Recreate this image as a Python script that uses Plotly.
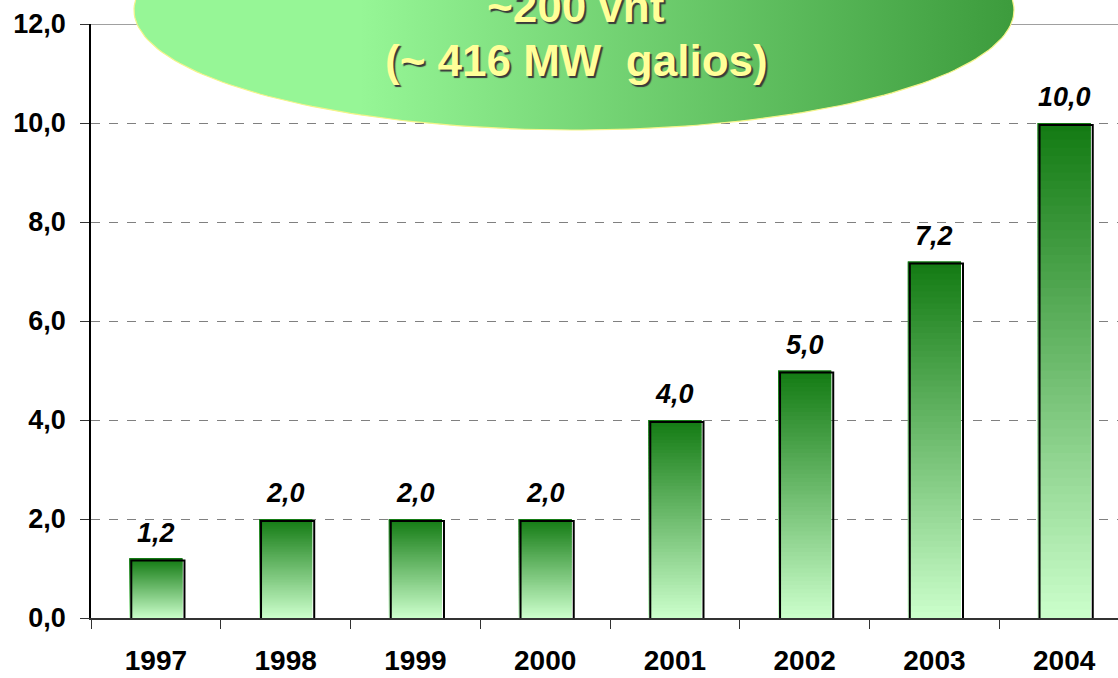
import numpy as np
import plotly.graph_objects as go

# ---- data ----
years = ["1997", "1998", "1999", "2000", "2001", "2002", "2003", "2004"]
values = [1.2, 2.0, 2.0, 2.0, 4.0, 5.0, 7.2, 10.0]
y_ticks = [0, 2, 4, 6, 8, 10, 12]
bubble_line1 = "~200 vnt"
bubble_line2 = "(~ 416 MW  galios)"

W, H = 1118, 678
BAR_W = 0.41
N = 60
top_rgb = np.array([18, 122, 18])
bot_rgb = np.array([204, 255, 204])

fig = go.Figure()

# gradient bars built from overlapping slices
for k in range(N):
    f = (k + 0.5) / N
    c = bot_rgb + (top_rgb - bot_rgb) * f
    col = "rgb(%d,%d,%d)" % tuple(int(round(v)) for v in c)
    bases = [v * k / N for v in values]
    heights = [min(v / N * 2.0, v - bb) for v, bb in zip(values, bases)]
    fig.add_trace(go.Bar(
        x=years, y=heights, base=bases,
        width=BAR_W, marker=dict(color=col, line=dict(width=0)),
        hoverinfo="skip", showlegend=False, xaxis="x", yaxis="y"))

# shadow outline (offset axes)
px_per_cat = (W - 91) / 7.915
px_per_unit = (618 - 24) / 12
dx = 2 / px_per_cat
dy = 2 / px_per_unit
fig.add_trace(go.Bar(
    x=years, y=values, width=BAR_W,
    marker=dict(color="rgba(0,0,0,0)", line=dict(color="black", width=2)),
    hoverinfo="skip", showlegend=False, xaxis="x2", yaxis="y2"))

# bubble ellipse (decoration) in pixel axes
cx, cy, a, b = 574, 10, 440, 120
t = np.linspace(0, 2 * np.pi, 240)
fig.add_trace(go.Scatter(
    x=cx + a * np.cos(t), y=cy + b * np.sin(t), mode="lines", fill="toself",
    line=dict(color="#f4f48a", width=1.2),
    fillgradient=dict(type="horizontal", start=360, stop=1010,
                      colorscale=[[0, "#96f696"], [1, "#3d9c3d"]]),
    hoverinfo="skip", showlegend=False, xaxis="x3", yaxis="y3"))

# value labels
for i, v in enumerate(values):
    fig.add_annotation(x=i, y=v, xref="x", yref="y", yshift=26,
                       text=("%.1f" % v).replace(".", ","), showarrow=False,
                       font=dict(family="Liberation Sans, Arial", size=27,
                                 color="black", weight="bold", style="italic"))

txtfont = dict(family="Liberation Sans, Arial", size=44,
               color="#ffff99", weight="bold", shadow="2px 2px 1px #3a3a3a")
fig.add_annotation(x=576, y=6, xref="x3", yref="y3", text=bubble_line1,
                   showarrow=False, font=txtfont)
fig.add_annotation(x=576, y=60, xref="x3", yref="y3", text=bubble_line2,
                   showarrow=False, font=txtfont)

fig.add_shape(type="line", xref="paper", yref="y", x0=91 / W, x1=1, y0=12, y1=12,
              line=dict(color="#808080", width=1.5), layer="below")

ydom = [(H - 618) / H, (H - 24) / H]
xdom = [91 / W, 1]
xr = [-0.5, 7.415]

fig.update_layout(
    width=W, height=H, margin=dict(l=0, r=0, t=0, b=0),
    paper_bgcolor="white", plot_bgcolor="rgba(0,0,0,0)",
    barmode="overlay", separators=",.",
    xaxis=dict(domain=xdom, type="category", range=xr, anchor="y",
               showline=True, linecolor="#333", linewidth=1.5,
               ticks="outside", tickson="boundaries", ticklen=9, tickcolor="#333",
               ticklabelstandoff=17, showgrid=False, automargin=False,
               tickfont=dict(family="Liberation Sans, Arial", size=28, color="black", weight="bold")),
    yaxis=dict(domain=ydom, range=[0, 12], anchor="x", tickvals=y_ticks, tickformat=".1f",
               showline=True, linecolor="black", linewidth=1.5,
               ticks="outside", ticklen=9, tickcolor="#333", ticklabelstandoff=9,
               showgrid=True, gridcolor="#808080", griddash="dash", gridwidth=1.2,
               zeroline=False, automargin=False,
               tickfont=dict(family="Liberation Sans, Arial", size=27, color="black", weight="bold")),
    xaxis2=dict(type="category", overlaying="x", range=[xr[0] - dx, xr[1] - dx],
                visible=False, anchor="y2"),
    yaxis2=dict(overlaying="y", range=[dy, 12 + dy], visible=False, anchor="x2"),
    xaxis3=dict(domain=[0, 1], range=[0, W], visible=False, anchor="y3", fixedrange=True),
    yaxis3=dict(domain=[0, 1], range=[H, 0], visible=False, anchor="x3", fixedrange=True),
)

fig.write_html("out.html", config={"displayModeBar": False},
               post_script="document.body.style.margin='0';")
